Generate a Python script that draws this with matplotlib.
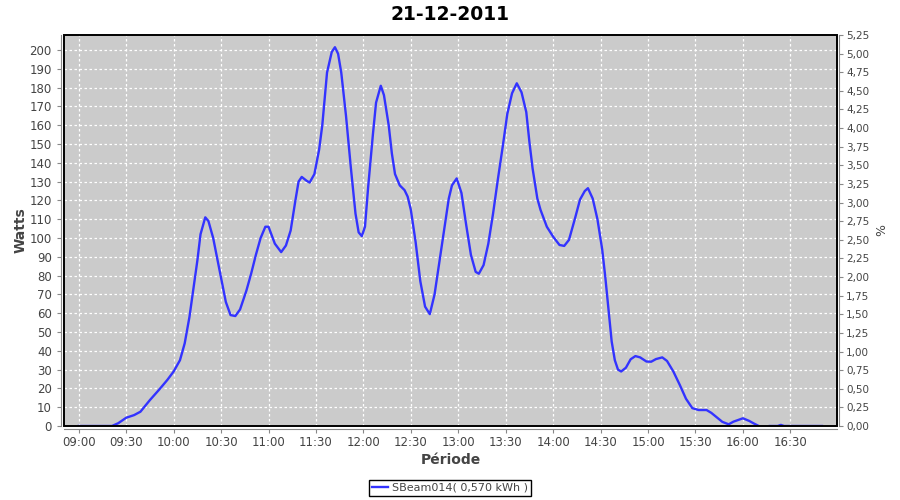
import matplotlib
matplotlib.use("Agg")
import matplotlib.pyplot as plt
import matplotlib.dates as mdates
import numpy as np
import pandas as pd
from matplotlib.patches import Rectangle
from matplotlib.ticker import MultipleLocator, FuncFormatter

day = "2011-12-21"

# time of reading (HH:MM) and power in Watts
times = [
    "09:00", "09:10", "09:21", "09:25", "09:30", "09:35", "09:39", "09:45",
    "09:51", "09:56", "10:00", "10:04", "10:07", "10:10", "10:12", "10:15",
    "10:17", "10:20", "10:22", "10:25", "10:29", "10:33", "10:36", "10:39",
    "10:42", "10:46", "10:49", "10:52", "10:55", "10:58", "11:00", "11:04",
    "11:08", "11:11", "11:14", "11:17", "11:19", "11:21", "11:24", "11:26",
    "11:29", "11:32", "11:34", "11:37", "11:40", "11:42", "11:44", "11:46",
    "11:49", "11:52", "11:55", "11:57", "11:59", "12:01", "12:03", "12:06",
    "12:08", "12:11", "12:13", "12:16", "12:18", "12:20", "12:23", "12:26",
    "12:28", "12:30", "12:33", "12:36", "12:39", "12:42", "12:45", "12:48",
    "12:51", "12:54", "12:56", "12:59", "13:02", "13:05", "13:08", "13:11",
    "13:13", "13:16", "13:19", "13:22", "13:25", "13:28", "13:31", "13:34",
    "13:37", "13:40", "13:43", "13:45", "13:47", "13:50", "13:52", "13:56",
    "14:00", "14:04", "14:07", "14:10", "14:14", "14:17", "14:20", "14:22",
    "14:25", "14:28", "14:31", "14:33", "14:35", "14:37", "14:39", "14:41",
    "14:43", "14:46", "14:49", "14:52", "14:55", "14:59", "15:02", "15:05",
    "15:09", "15:12", "15:16", "15:20", "15:24", "15:28", "15:32", "15:37",
    "15:40", "15:44", "15:47", "15:51", "15:54", "16:00", "16:04", "16:07",
    "16:10", "16:13", "16:17", "16:22", "16:24", "16:26", "16:50",
]
watts = [
    0, 0, 0, 1.5, 4.4, 5.8, 7.6, 13.8,
    19.5, 24.5, 29, 35, 44, 58, 70, 88,
    102, 111, 109, 100, 83, 66, 59, 58.5,
    62, 72, 81, 91, 100, 106, 106, 97,
    92.5, 96, 104, 120, 130, 132.5, 130.5, 129.5,
    134, 147, 160, 188, 199, 201.5, 198, 188,
    165, 138, 113, 103, 101, 106, 127, 155,
    172, 181, 176, 160, 145, 134, 128, 125.5,
    122, 115, 98, 77, 63.5, 59.5, 70, 87,
    104, 121, 128, 131.7, 124, 107, 91, 82,
    81, 85.6, 97, 113, 131, 148, 166, 177,
    182.3, 177.5, 167, 151, 137, 121, 115, 106,
    100.7, 96.3, 95.8, 99, 111, 120.5, 125, 126.5,
    121, 110, 94, 79, 62, 45, 35, 30,
    29, 31, 35.5, 37.2, 36.5, 34.3, 34.2, 35.6,
    36.5, 34.6, 29, 22, 14.5, 9.5, 8.5, 8.5,
    7, 4.3, 2.2, 0.9, 2.3, 4.1, 2.7, 1.3,
    0, np.nan, 0, 0, 0.6, 0, 0,
]

series_label = "SBeam014( 0,570 kWh )"
title = "21-12-2011"

grey_txt = "#444444"
plt.rcParams["font.family"] = "DejaVu Sans"

x = pd.to_datetime([day + " " + t for t in times])

fig = plt.figure(figsize=(9, 5), dpi=100)
ax = fig.add_axes([64 / 900, 74 / 500, 773 / 900, 391 / 500])
ax.set_facecolor("#cbcbcb")

line, = ax.plot(x, watts, color="#3333ff", lw=1.7, label=series_label,
                zorder=3)

ax.set_xlim(pd.Timestamp(day + " 08:50:40"), pd.Timestamp(day + " 16:59:30"))
ax.set_ylim(0, 208)
ax.yaxis.set_major_locator(MultipleLocator(10))
ax.xaxis.set_major_locator(mdates.MinuteLocator(byminute=[0, 30]))
ax.xaxis.set_major_formatter(mdates.DateFormatter("%H:%M"))
ax.grid(True, color="white", ls=(0, (2, 2)), lw=0.9)
ax.set_axisbelow(True)

ax2 = ax.twinx()
ax2.set_ylim(0, 5.25)
ax2.yaxis.set_major_locator(MultipleLocator(0.25))
ax2.yaxis.set_major_formatter(
    FuncFormatter(lambda v, p: ("%.2f" % v).replace(".", ",")))

for a in (ax, ax2):
    for s in a.spines.values():
        s.set_visible(False)
for side in ("left", "bottom"):
    ax.spines[side].set_visible(True)
    ax.spines[side].set_position(("outward", 2.3))
    ax.spines[side].set_color("#888888")
ax2.spines["right"].set_visible(True)
ax2.spines["right"].set_position(("outward", 1.5))
ax2.spines["right"].set_color("#888888")

ax.tick_params(axis="both", colors="#888888", labelcolor=grey_txt,
               labelsize=8.5, length=3, direction="out")
ax.tick_params(axis="x", pad=2)
ax2.tick_params(axis="y", colors="#888888", labelcolor=grey_txt,
                labelsize=7.5, length=3, direction="out", pad=2)

# black frame round the plot area
ax.add_patch(Rectangle((0, 0), 1, 1, transform=ax.transAxes, fill=False,
                       edgecolor="black", lw=1.4, zorder=5, clip_on=False))

ax.set_ylabel("Watts", fontsize=10, fontweight="bold", color=grey_txt,
              labelpad=1)
ax.set_xlabel("Période", fontsize=10, fontweight="bold", color=grey_txt,
              labelpad=3)
ax2.set_ylabel("%", fontsize=9, color=grey_txt, labelpad=4)

fig.suptitle(title, x=0.5, y=0.99, fontsize=13.5, fontweight="bold")

fig.legend(handles=[line], loc="center", bbox_to_anchor=(0.5, 0.024),
           fancybox=False, framealpha=1, edgecolor="black", fontsize=8,
           handlelength=1.4, handletextpad=0.4, borderpad=0.3,
           labelcolor=grey_txt)

fig.savefig("out.png", dpi=100)
